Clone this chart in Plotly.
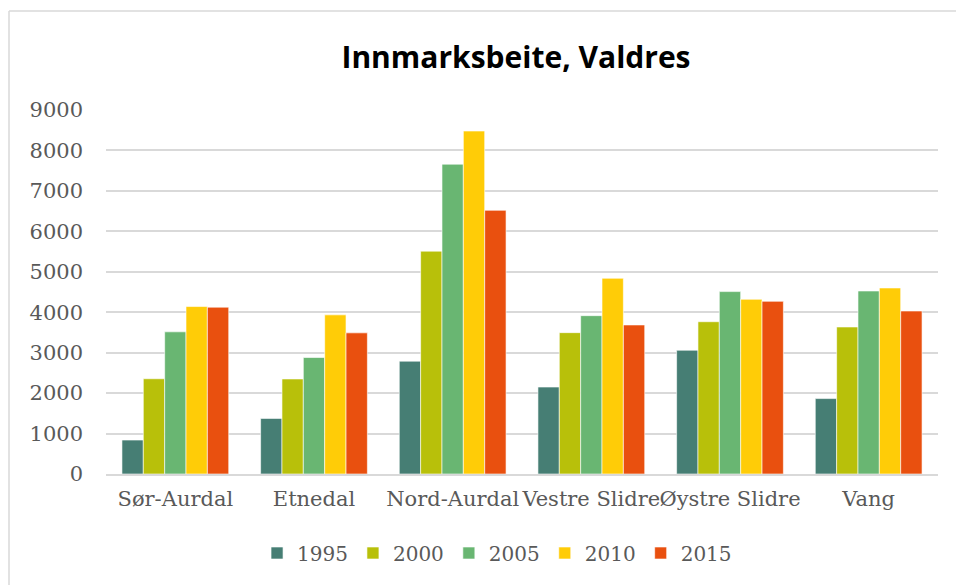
import plotly.graph_objects as go

categories = ["Sør-Aurdal", "Etnedal", "Nord-Aurdal", "Vestre Slidre", "Øystre Slidre", "Vang"]
years = ["1995", "2000", "2005", "2010", "2015"]
v1995 = [840, 1375, 2790, 2150, 3060, 1865]
v2000 = [2355, 2350, 5510, 3495, 3765, 3635]
v2005 = [3515, 2880, 7660, 3915, 4510, 4525]
v2010 = [4140, 3935, 8480, 4840, 4320, 4600]
v2015 = [4125, 3490, 6520, 3685, 4270, 4030]
series = [v1995, v2000, v2005, v2010, v2015]
colors = ["#467E74", "#B8C00A", "#69B672", "#FFCC07", "#E9500F"]

W, H = 956, 585
ML, MR, MT, MB = 106, 18, 110, 111

fig = go.Figure()
for name, vals, col in zip(years, series, colors):
    fig.add_trace(go.Bar(
        x=categories, y=vals, name=name,
        marker=dict(color=col, line=dict(color="rgba(255,255,255,0.6)", width=1)),
    ))

pw = W - ML - MR
ph = H - MT - MB
# chart frame: only top and left edges visible in the reference
fx0 = (9 - ML) / pw
fx1 = (W + 5 - ML) / pw
fy_top = (H - MB - 11) / ph
fy_bot = (H - MB - H - 5) / ph
fig.add_shape(type="line", xref="paper", yref="paper", x0=fx0, x1=fx1, y0=fy_top, y1=fy_top,
              line=dict(color="#D9D9D9", width=1.5), layer="below")
fig.add_shape(type="line", xref="paper", yref="paper", x0=fx0, x1=fx0, y0=fy_top, y1=fy_bot,
              line=dict(color="#D9D9D9", width=1.5), layer="below")

serif = "DejaVu Serif, Liberation Serif, serif"
fig.update_layout(
    width=W, height=H,
    margin=dict(l=ML, r=MR, t=MT, b=MB, autoexpand=False),
    paper_bgcolor="white", plot_bgcolor="white",
    barmode="group", bargap=0.23, bargroupgap=0,
    title=dict(text="<b>Innmarksbeite, Valdres</b>", x=516 / W, xanchor="center",
               y=1 - 57 / H, yanchor="middle",
               font=dict(family="Open Sans, Noto Sans, sans-serif", size=30, color="#000000")),
    font=dict(family=serif, size=20, color="#595959"),
    xaxis=dict(showgrid=False, showline=True, linecolor="#D9D9D9", linewidth=2,
               ticks="", tickangle=0, automargin=False,
               tickfont=dict(family=serif, size=21, color="#595959"), ticklabelstandoff=5),
    yaxis=dict(range=[0, 9000], dtick=1000, showgrid=True, gridcolor="#D9D9D9", gridwidth=1.5,
               zeroline=False, showline=False, ticks="", tickformat="d", automargin=False,
               tickfont=dict(family=serif, size=21, color="#595959"), ticklabelstandoff=22),
    legend=dict(orientation="h", x=0.47, xanchor="center", y=-(553 - (H - MB)) / ph, yanchor="middle",
                font=dict(family=serif, size=20, color="#595959"), itemwidth=30, tracegroupgap=0),
    showlegend=True,
)

fig.write_html("out.html", config={"displayModeBar": False},
               post_script="document.body.style.margin='0';document.body.style.overflow='hidden';")
